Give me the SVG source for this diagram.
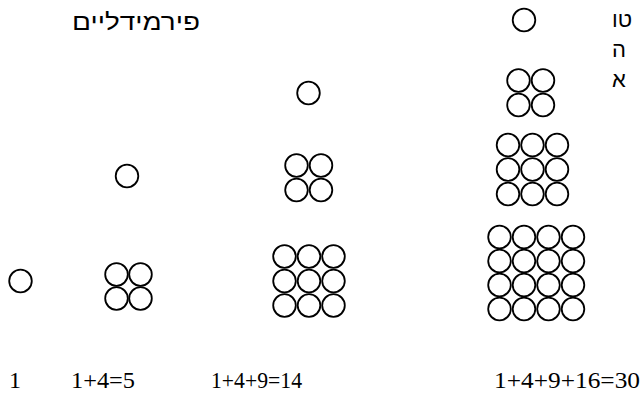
<svg xmlns="http://www.w3.org/2000/svg" width="643" height="394" viewBox="0 0 643 394">
<style>
.c{fill:none;stroke:#000;stroke-width:1.8}
.he{font-family:"Liberation Sans","DejaVu Sans",Arial,sans-serif;font-size:22px;fill:#000}
.title{font-size:23px}
.num{font-family:"Liberation Serif","Times New Roman",serif;font-size:24px;fill:#000}
</style>
<rect width="643" height="394" fill="#fff"/>
<text class="he title" x="72" y="30" textLength="128" lengthAdjust="spacingAndGlyphs">פירמידליים</text>
<g id="side-text">
<text class="he" x="612" y="27">טו</text>
<text class="he" x="612" y="57">ה</text>
<text class="he" x="612" y="87">א</text>
</g>
<g id="pyramid-1">
<circle class="c" cx="20.5" cy="281" r="11.3"/>
</g>
<g id="pyramid-5">
<circle class="c" cx="127" cy="176" r="11.3"/>
<circle class="c" cx="116.5" cy="274.5" r="11.3"/><circle class="c" cx="140.5" cy="274.5" r="11.3"/>
<circle class="c" cx="116.5" cy="298.5" r="11.3"/><circle class="c" cx="140.5" cy="298.5" r="11.3"/>
</g>
<g id="pyramid-14">
<circle class="c" cx="308.5" cy="93" r="11.3"/>
<circle class="c" cx="296.5" cy="165.5" r="11.3"/><circle class="c" cx="321" cy="165.5" r="11.3"/>
<circle class="c" cx="296.5" cy="190" r="11.3"/><circle class="c" cx="321" cy="190" r="11.3"/>
<circle class="c" cx="284.5" cy="256.5" r="11.3"/><circle class="c" cx="309" cy="256.5" r="11.3"/><circle class="c" cx="333.5" cy="256.5" r="11.3"/>
<circle class="c" cx="284.5" cy="281" r="11.3"/><circle class="c" cx="309" cy="281" r="11.3"/><circle class="c" cx="333.5" cy="281" r="11.3"/>
<circle class="c" cx="284.5" cy="305.5" r="11.3"/><circle class="c" cx="309" cy="305.5" r="11.3"/><circle class="c" cx="333.5" cy="305.5" r="11.3"/>
</g>
<g id="pyramid-30">
<circle class="c" cx="524" cy="20" r="11.3"/>
<circle class="c" cx="518.5" cy="80.5" r="11.3"/><circle class="c" cx="543" cy="80.5" r="11.3"/>
<circle class="c" cx="518.5" cy="105" r="11.3"/><circle class="c" cx="543" cy="105" r="11.3"/>
<circle class="c" cx="508" cy="145" r="11.3"/><circle class="c" cx="532.5" cy="145" r="11.3"/><circle class="c" cx="557" cy="145" r="11.3"/>
<circle class="c" cx="508" cy="169.5" r="11.3"/><circle class="c" cx="532.5" cy="169.5" r="11.3"/><circle class="c" cx="557" cy="169.5" r="11.3"/>
<circle class="c" cx="508" cy="194" r="11.3"/><circle class="c" cx="532.5" cy="194" r="11.3"/><circle class="c" cx="557" cy="194" r="11.3"/>
<circle class="c" cx="499.5" cy="237" r="11.3"/><circle class="c" cx="524" cy="237" r="11.3"/><circle class="c" cx="548.5" cy="237" r="11.3"/><circle class="c" cx="573" cy="237" r="11.3"/>
<circle class="c" cx="499.5" cy="261" r="11.3"/><circle class="c" cx="524" cy="261" r="11.3"/><circle class="c" cx="548.5" cy="261" r="11.3"/><circle class="c" cx="573" cy="261" r="11.3"/>
<circle class="c" cx="499.5" cy="285" r="11.3"/><circle class="c" cx="524" cy="285" r="11.3"/><circle class="c" cx="548.5" cy="285" r="11.3"/><circle class="c" cx="573" cy="285" r="11.3"/>
<circle class="c" cx="499.5" cy="309" r="11.3"/><circle class="c" cx="524" cy="309" r="11.3"/><circle class="c" cx="548.5" cy="309" r="11.3"/><circle class="c" cx="573" cy="309" r="11.3"/>
</g>
<g id="labels">
<text class="num" x="9" y="388">1</text>
<text class="num" x="71" y="388" textLength="64" lengthAdjust="spacingAndGlyphs">1+4=5</text>
<text class="num" x="211" y="388" textLength="91" lengthAdjust="spacingAndGlyphs">1+4+9=14</text>
<text class="num" x="494" y="388" textLength="146" lengthAdjust="spacingAndGlyphs">1+4+9+16=30</text>
</g>
</svg>
